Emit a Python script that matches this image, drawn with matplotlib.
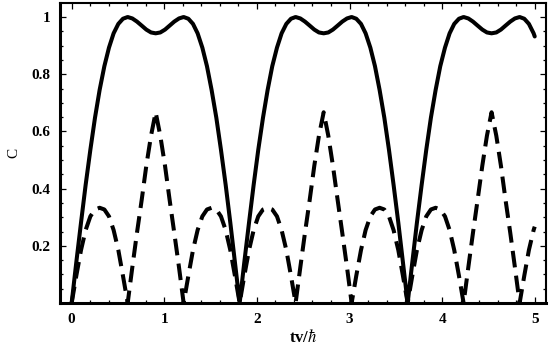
"""Concurrence C against tv/hbar: solid and dashed curves, Mathematica-style frame."""

import matplotlib
matplotlib.use("Agg")
import matplotlib.pyplot as plt
from matplotlib.ticker import MultipleLocator

# sample times (tv/hbar)
T_VALUES = [
    0.000, 0.050, 0.101, 0.151, 0.202, 0.252, 0.302, 0.353, 0.403, 0.453,
    0.504, 0.554, 0.605, 0.655, 0.705, 0.756, 0.806, 0.857, 0.907, 0.957,
    1.008, 1.058, 1.108, 1.159, 1.209, 1.260, 1.310, 1.360, 1.411, 1.461,
    1.511, 1.562, 1.612, 1.663, 1.713, 1.763, 1.814, 1.864, 1.915, 1.965,
    2.015, 2.066, 2.116, 2.166, 2.217, 2.267, 2.318, 2.368, 2.418, 2.469,
    2.519, 2.570, 2.620, 2.670, 2.721, 2.771, 2.821, 2.872, 2.922, 2.973,
    3.023, 3.073, 3.124, 3.174, 3.225, 3.275, 3.325, 3.376, 3.426, 3.476,
    3.527, 3.577, 3.628, 3.678, 3.728, 3.779, 3.829, 3.879, 3.930, 3.980,
    4.031, 4.081, 4.131, 4.182, 4.232, 4.283, 4.333, 4.383, 4.434, 4.484,
    4.534, 4.585, 4.635, 4.685, 4.736, 4.786, 4.837, 4.887, 4.937, 4.988,
    5.000,
]

# solid curve
C_SOLID = [
    0.000, 0.142, 0.281, 0.413, 0.536, 0.648, 0.745, 0.828, 0.893, 0.943,
    0.976, 0.994, 1.000, 0.995, 0.984, 0.970, 0.956, 0.946, 0.943, 0.946,
    0.956, 0.970, 0.984, 0.995, 1.000, 0.994, 0.976, 0.943, 0.893, 0.828,
    0.745, 0.648, 0.536, 0.413, 0.281, 0.142, 0.000, 0.142, 0.281, 0.413,
    0.536, 0.648, 0.745, 0.828, 0.893, 0.943, 0.976, 0.994, 1.000, 0.995,
    0.984, 0.970, 0.956, 0.946, 0.943, 0.946, 0.956, 0.970, 0.984, 0.995,
    1.000, 0.994, 0.976, 0.943, 0.893, 0.828, 0.745, 0.648, 0.536, 0.413,
    0.281, 0.142, 0.000, 0.142, 0.281, 0.413, 0.536, 0.648, 0.745, 0.828,
    0.893, 0.943, 0.976, 0.994, 1.000, 0.995, 0.984, 0.970, 0.956, 0.946,
    0.943, 0.946, 0.956, 0.970, 0.984, 0.995, 1.000, 0.994, 0.976, 0.943,
    0.932,
]

# dashed curve
C_DASHED = [
    0.000, 0.095, 0.185, 0.255, 0.303, 0.327, 0.333, 0.327, 0.303, 0.255,
    0.185, 0.095, 0.000, 0.125, 0.245, 0.360, 0.480, 0.585, 0.667, 0.585,
    0.480, 0.360, 0.245, 0.125, 0.000, 0.095, 0.185, 0.255, 0.303, 0.327,
    0.333, 0.327, 0.303, 0.255, 0.185, 0.095, 0.000, 0.095, 0.185, 0.255,
    0.303, 0.327, 0.333, 0.327, 0.303, 0.255, 0.185, 0.095, 0.000, 0.125,
    0.245, 0.360, 0.480, 0.585, 0.667, 0.585, 0.480, 0.360, 0.245, 0.125,
    0.000, 0.095, 0.185, 0.255, 0.303, 0.327, 0.333, 0.327, 0.303, 0.255,
    0.185, 0.095, 0.000, 0.095, 0.185, 0.255, 0.303, 0.327, 0.333, 0.327,
    0.303, 0.255, 0.185, 0.095, 0.000, 0.125, 0.245, 0.360, 0.480, 0.585,
    0.667, 0.585, 0.480, 0.360, 0.245, 0.125, 0.000, 0.095, 0.185, 0.255,
    0.267,
]

X_TICKS = [0, 1, 2, 3, 4, 5]
Y_TICKS = [0.2, 0.4, 0.6, 0.8, 1.0]
Y_TICK_LABELS = ["0.2", "0.4", "0.6", "0.8", "1"]

plt.rcParams["font.family"] = ["Liberation Serif", "DejaVu Serif"]
plt.rcParams["mathtext.fontset"] = "stix"
plt.rcParams["lines.scale_dashes"] = False

fig = plt.figure(figsize=(5.57, 3.45), dpi=100)
ax = fig.add_axes([0.1077, 0.1217, 0.8726, 0.8696])

ax.plot(T_VALUES, C_SOLID, color="black", lw=2.9, solid_capstyle="round",
        solid_joinstyle="round")
ax.plot(T_VALUES, C_DASHED, color="black", lw=2.9, dashes=(12, 6),
        dash_capstyle="butt", dash_joinstyle="round")

ax.set_xlim(-0.126, 5.122)
ax.set_ylim(0, 1.049)

ax.set_xticks(X_TICKS)
ax.set_yticks(Y_TICKS)
ax.set_yticklabels(Y_TICK_LABELS)
ax.xaxis.set_minor_locator(MultipleLocator(0.2))
ax.yaxis.set_minor_locator(MultipleLocator(0.05))
ax.tick_params(which="both", direction="in", top=True, right=True,
               width=0.9, colors="black")
ax.tick_params(which="major", length=4.5, labelsize=11, pad=7)
ax.tick_params(which="minor", length=2.5)
for lab in ax.get_xticklabels() + ax.get_yticklabels():
    lab.set_fontweight("bold")

for side in ("left", "bottom"):
    ax.spines[side].set_linewidth(2.2)
for side in ("top", "right"):
    ax.spines[side].set_linewidth(1.5)

ax.set_xlabel(r"tv/$\hbar$", fontsize=12, fontweight="bold", labelpad=2)
ax.set_ylabel("C", fontsize=11, labelpad=8)

fig.savefig("out.png", dpi=100)
